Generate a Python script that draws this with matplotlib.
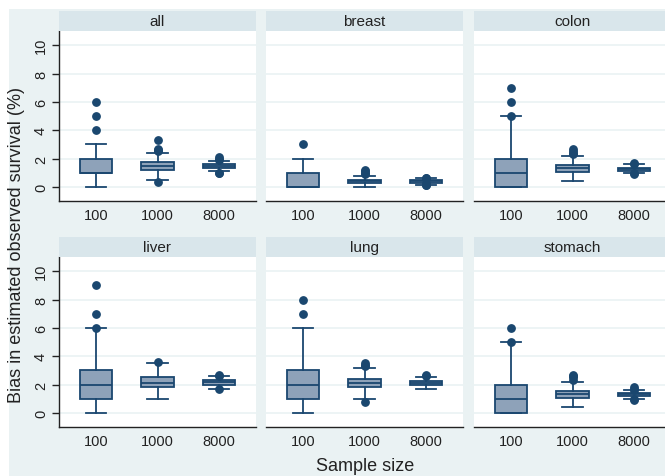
import matplotlib
matplotlib.use("Agg")
import matplotlib.pyplot as plt
from matplotlib.patches import Rectangle

plt.rcParams['font.family'] = ['Liberation Sans', 'DejaVu Sans']

# ---- data ----
cancers = ['all', 'breast', 'colon', 'liver', 'lung', 'stomach']
sizes = ['100', '1000', '8000']

q1 = [[1.0, 1.2, 1.3], [0.0, 0.3, 0.3], [0.0, 1.05, 1.15],
      [1.0, 1.8, 2.0], [1.0, 1.8, 2.0], [0.0, 1.05, 1.2]]
med = [[1.0, 1.45, 1.45], [0.0, 0.4, 0.4], [1.0, 1.3, 1.25],
       [2.0, 2.1, 2.15], [2.0, 2.1, 2.1], [1.0, 1.3, 1.3]]
q3 = [[2.0, 1.75, 1.6], [1.0, 0.5, 0.45], [2.0, 1.55, 1.35],
      [3.0, 2.5, 2.3], [3.0, 2.4, 2.25], [2.0, 1.55, 1.4]]
whislo = [[0.0, 0.5, 1.1], [0.0, 0.0, 0.15], [0.0, 0.4, 0.95],
          [0.0, 1.0, 1.7], [0.0, 1.0, 1.7], [0.0, 0.4, 0.95]]
whishi = [[3.0, 2.4, 1.85], [2.0, 0.8, 0.6], [5.0, 2.2, 1.6],
          [6.0, 3.5, 2.6], [6.0, 3.2, 2.5], [5.0, 2.2, 1.6]]
fliers = [
    [[4, 5, 6], [0.35, 2.5, 2.6, 2.7, 3.3], [0.95, 1.0, 1.9, 2.0, 2.1]],
    [[3], [0.9, 1.0, 1.1, 1.2], [0.1, 0.15, 0.2, 0.55, 0.6, 0.65]],
    [[5, 6, 7], [2.3, 2.4, 2.5, 2.7], [0.9, 0.95, 1.6, 1.7]],
    [[6, 7, 9], [3.6], [1.7, 2.6, 2.65]],
    [[7, 8], [0.8, 3.3, 3.4, 3.5], [2.6, 2.65]],
    [[5, 6], [2.3, 2.5, 2.6, 2.7], [0.9, 1.0, 1.6, 1.7, 1.8]],
]
yticks = [0, 2, 4, 6, 8, 10]

# ---- style ----
BG = '#EAF2F3'
STRIP = '#D9E6EB'
NAVY = '#1A476F'
FILL = '#8EA2B9'

W, H = 665, 477
fig = plt.figure(figsize=(W / 100, H / 100), dpi=100, facecolor='white')

# outer shaded background
fig.patches.append(Rectangle((9 / W, 0), 1, 1 - 10 / H, transform=fig.transFigure,
                             facecolor=BG, edgecolor='none', zorder=-10))

col_left = [59, 266, 474]
col_w = 197
row_top = [32, 258]
row_h = 170
strip_h = 20

for i, name in enumerate(cancers):
    r, c = divmod(i, 3)
    x0 = col_left[c] / W
    y0 = 1 - (row_top[r] + row_h) / H
    ax = fig.add_axes([x0, y0, col_w / W, row_h / H])
    ax.set_facecolor('white')
    stats = []
    for j, s in enumerate(sizes):
        stats.append(dict(med=med[i][j], q1=q1[i][j], q3=q3[i][j],
                          whislo=whislo[i][j], whishi=whishi[i][j],
                          fliers=fliers[i][j], label=s))
    ax.bxp(stats, positions=[1, 2, 3], widths=0.52, capwidths=0.33,
           patch_artist=True, showfliers=True,
           boxprops=dict(facecolor=FILL, edgecolor=NAVY, linewidth=1.3),
           medianprops=dict(color=NAVY, linewidth=1.3),
           whiskerprops=dict(color=NAVY, linewidth=1.3),
           capprops=dict(color=NAVY, linewidth=1.3),
           flierprops=dict(marker='o', markerfacecolor=NAVY, markeredgecolor=NAVY,
                           markersize=5.3, linestyle='none'),
           zorder=3)
    ax.set_xlim(0.4, 3.6)
    ax.set_ylim(-1, 11)
    ax.set_yticks(yticks)
    ax.grid(axis='y', color=BG, linewidth=1.2, zorder=0)
    ax.set_axisbelow(True)
    for sp in ['top', 'right']:
        ax.spines[sp].set_visible(False)
    ax.spines['bottom'].set_color('#222222')
    ax.spines['bottom'].set_linewidth(1.0)
    ax.tick_params(axis='x', length=0, labelsize=10.5, pad=5, colors='#222222')
    if c == 0:
        ax.spines['left'].set_color('#222222')
        ax.spines['left'].set_linewidth(1.0)
        ax.tick_params(axis='y', length=5, width=1, labelsize=10.5, pad=3,
                       colors='#222222', labelrotation=90)
        for lab in ax.get_yticklabels():
            lab.set_va('center')
    else:
        ax.spines['left'].set_visible(False)
        ax.tick_params(axis='y', length=0, labelleft=False)
    # strip
    sy0 = 1 - (row_top[r]) / H
    sax = fig.add_axes([x0, sy0, col_w / W, strip_h / H])
    sax.set_facecolor(STRIP)
    sax.set_xticks([]); sax.set_yticks([])
    for sp in sax.spines.values():
        sp.set_visible(False)
    sax.text(0.5, 0.5, name, ha='center', va='center', fontsize=11,
             color='#222222', transform=sax.transAxes)

fig.text(365 / W, 1 - 467 / H, 'Sample size', ha='center', va='center',
         fontsize=13, color='#222222')
fig.text(17 / W, 1 - 245 / H, 'Bias in estimated observed survival (%)',
         ha='center', va='center', rotation=90, fontsize=13, color='#222222')

fig.savefig('out.png', dpi=100, facecolor='white')
